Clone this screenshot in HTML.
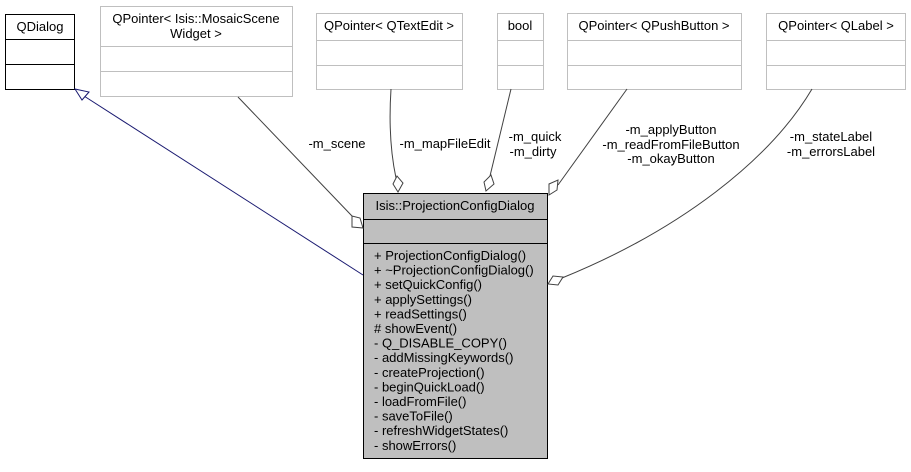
<!DOCTYPE html>
<html><head><meta charset="utf-8"><style>
html,body{margin:0;padding:0;background:#fff;}
text{font-family:"Liberation Sans",sans-serif;font-size:13px;fill:#000;}
</style></head><body>
<svg width="911" height="467" viewBox="0 0 911 467" xmlns="http://www.w3.org/2000/svg">
<rect x="5.5" y="14.5" width="69" height="75" fill="#fff" stroke="#000" stroke-width="1"/>
<line x1="5" y1="39.5" x2="75" y2="39.5" stroke="#000"/>
<line x1="5" y1="64.5" x2="75" y2="64.5" stroke="#000"/>
<text x="40" y="31" text-anchor="middle">QDialog</text>
<rect x="100.5" y="6.5" width="192" height="90" fill="#fff" stroke="#bfbfbf"/>
<line x1="100" y1="46.5" x2="293" y2="46.5" stroke="#bfbfbf"/>
<line x1="100" y1="71.5" x2="293" y2="71.5" stroke="#bfbfbf"/>
<text x="196" y="23" text-anchor="middle">QPointer&lt; Isis::MosaicScene</text>
<text x="196" y="38" text-anchor="middle">Widget &gt;</text>
<rect x="316.5" y="13.5" width="146" height="76" fill="#fff" stroke="#bfbfbf"/>
<line x1="316" y1="40.5" x2="463" y2="40.5" stroke="#bfbfbf"/>
<line x1="316" y1="65.5" x2="463" y2="65.5" stroke="#bfbfbf"/>
<text x="389" y="30" text-anchor="middle">QPointer&lt; QTextEdit &gt;</text>
<rect x="497.5" y="13.5" width="46" height="76" fill="#fff" stroke="#bfbfbf"/>
<line x1="497" y1="40.5" x2="544" y2="40.5" stroke="#bfbfbf"/>
<line x1="497" y1="65.5" x2="544" y2="65.5" stroke="#bfbfbf"/>
<text x="520" y="30" text-anchor="middle">bool</text>
<rect x="567.5" y="13.5" width="174" height="76" fill="#fff" stroke="#bfbfbf"/>
<line x1="567" y1="40.5" x2="742" y2="40.5" stroke="#bfbfbf"/>
<line x1="567" y1="65.5" x2="742" y2="65.5" stroke="#bfbfbf"/>
<text x="654" y="30" text-anchor="middle">QPointer&lt; QPushButton &gt;</text>
<rect x="766.5" y="13.5" width="139" height="76" fill="#fff" stroke="#bfbfbf"/>
<line x1="766" y1="40.5" x2="906" y2="40.5" stroke="#bfbfbf"/>
<line x1="766" y1="65.5" x2="906" y2="65.5" stroke="#bfbfbf"/>
<text x="836" y="30" text-anchor="middle">QPointer&lt; QLabel &gt;</text>
<rect x="363.5" y="193.5" width="184" height="265" fill="#bfbfbf" stroke="#000"/>
<line x1="363" y1="219.5" x2="548" y2="219.5" stroke="#000"/>
<line x1="363" y1="243.5" x2="548" y2="243.5" stroke="#000"/>
<text x="455" y="210" text-anchor="middle">Isis::ProjectionConfigDialog</text>
<g>
<text x="374" y="260">+ ProjectionConfigDialog()</text>
<text x="374" y="274.6">+ ~ProjectionConfigDialog()</text>
<text x="374" y="289.2">+ setQuickConfig()</text>
<text x="374" y="303.8">+ applySettings()</text>
<text x="374" y="318.4">+ readSettings()</text>
<text x="374" y="333"># showEvent()</text>
<text x="374" y="347.6">- Q_DISABLE_COPY()</text>
<text x="374" y="362.2">- addMissingKeywords()</text>
<text x="374" y="376.8">- createProjection()</text>
<text x="374" y="391.4">- beginQuickLoad()</text>
<text x="374" y="406">- loadFromFile()</text>
<text x="374" y="420.6">- saveToFile()</text>
<text x="374" y="435.2">- refreshWidgetStates()</text>
<text x="374" y="449.8">- showErrors()</text>
</g>
<line x1="363" y1="275" x2="84" y2="96" stroke="#191970"/>
<polygon points="75,89 89,92 82,100" fill="#fff" stroke="#191970"/>
<line x1="238" y1="97" x2="352" y2="216" stroke="#404040"/>
<polygon points="363,228 352,227 352,216 360,218" fill="#fff" stroke="#404040"/>
<path d="M391,89 C389,120 390,150 396,178" fill="none" stroke="#404040"/>
<polygon points="398,192 393,184 397,176 403,183" fill="#fff" stroke="#404040"/>
<line x1="511" y1="89" x2="490" y2="176" stroke="#404040"/>
<polygon points="486,191 484,182 491,175 494,184" fill="#fff" stroke="#404040"/>
<line x1="627" y1="89" x2="558" y2="185" stroke="#404040"/>
<polygon points="549,195 549,184 558,180 557,190" fill="#fff" stroke="#404040"/>
<path d="M812,89 C770,160 680,230 562,278" fill="none" stroke="#404040"/>
<polygon points="548,284 553,276 563,277 558,285" fill="#fff" stroke="#404040"/>
<text x="337" y="148" text-anchor="middle">-m_scene</text>
<text x="445" y="148" text-anchor="middle">-m_mapFileEdit</text>
<text x="535" y="141" text-anchor="middle">-m_quick</text>
<text x="533" y="156" text-anchor="middle">-m_dirty</text>
<text x="671" y="134" text-anchor="middle">-m_applyButton</text>
<text x="671" y="149" text-anchor="middle">-m_readFromFileButton</text>
<text x="671" y="163" text-anchor="middle">-m_okayButton</text>
<text x="831" y="141" text-anchor="middle">-m_stateLabel</text>
<text x="831" y="156" text-anchor="middle">-m_errorsLabel</text>
</svg>
</body></html>
